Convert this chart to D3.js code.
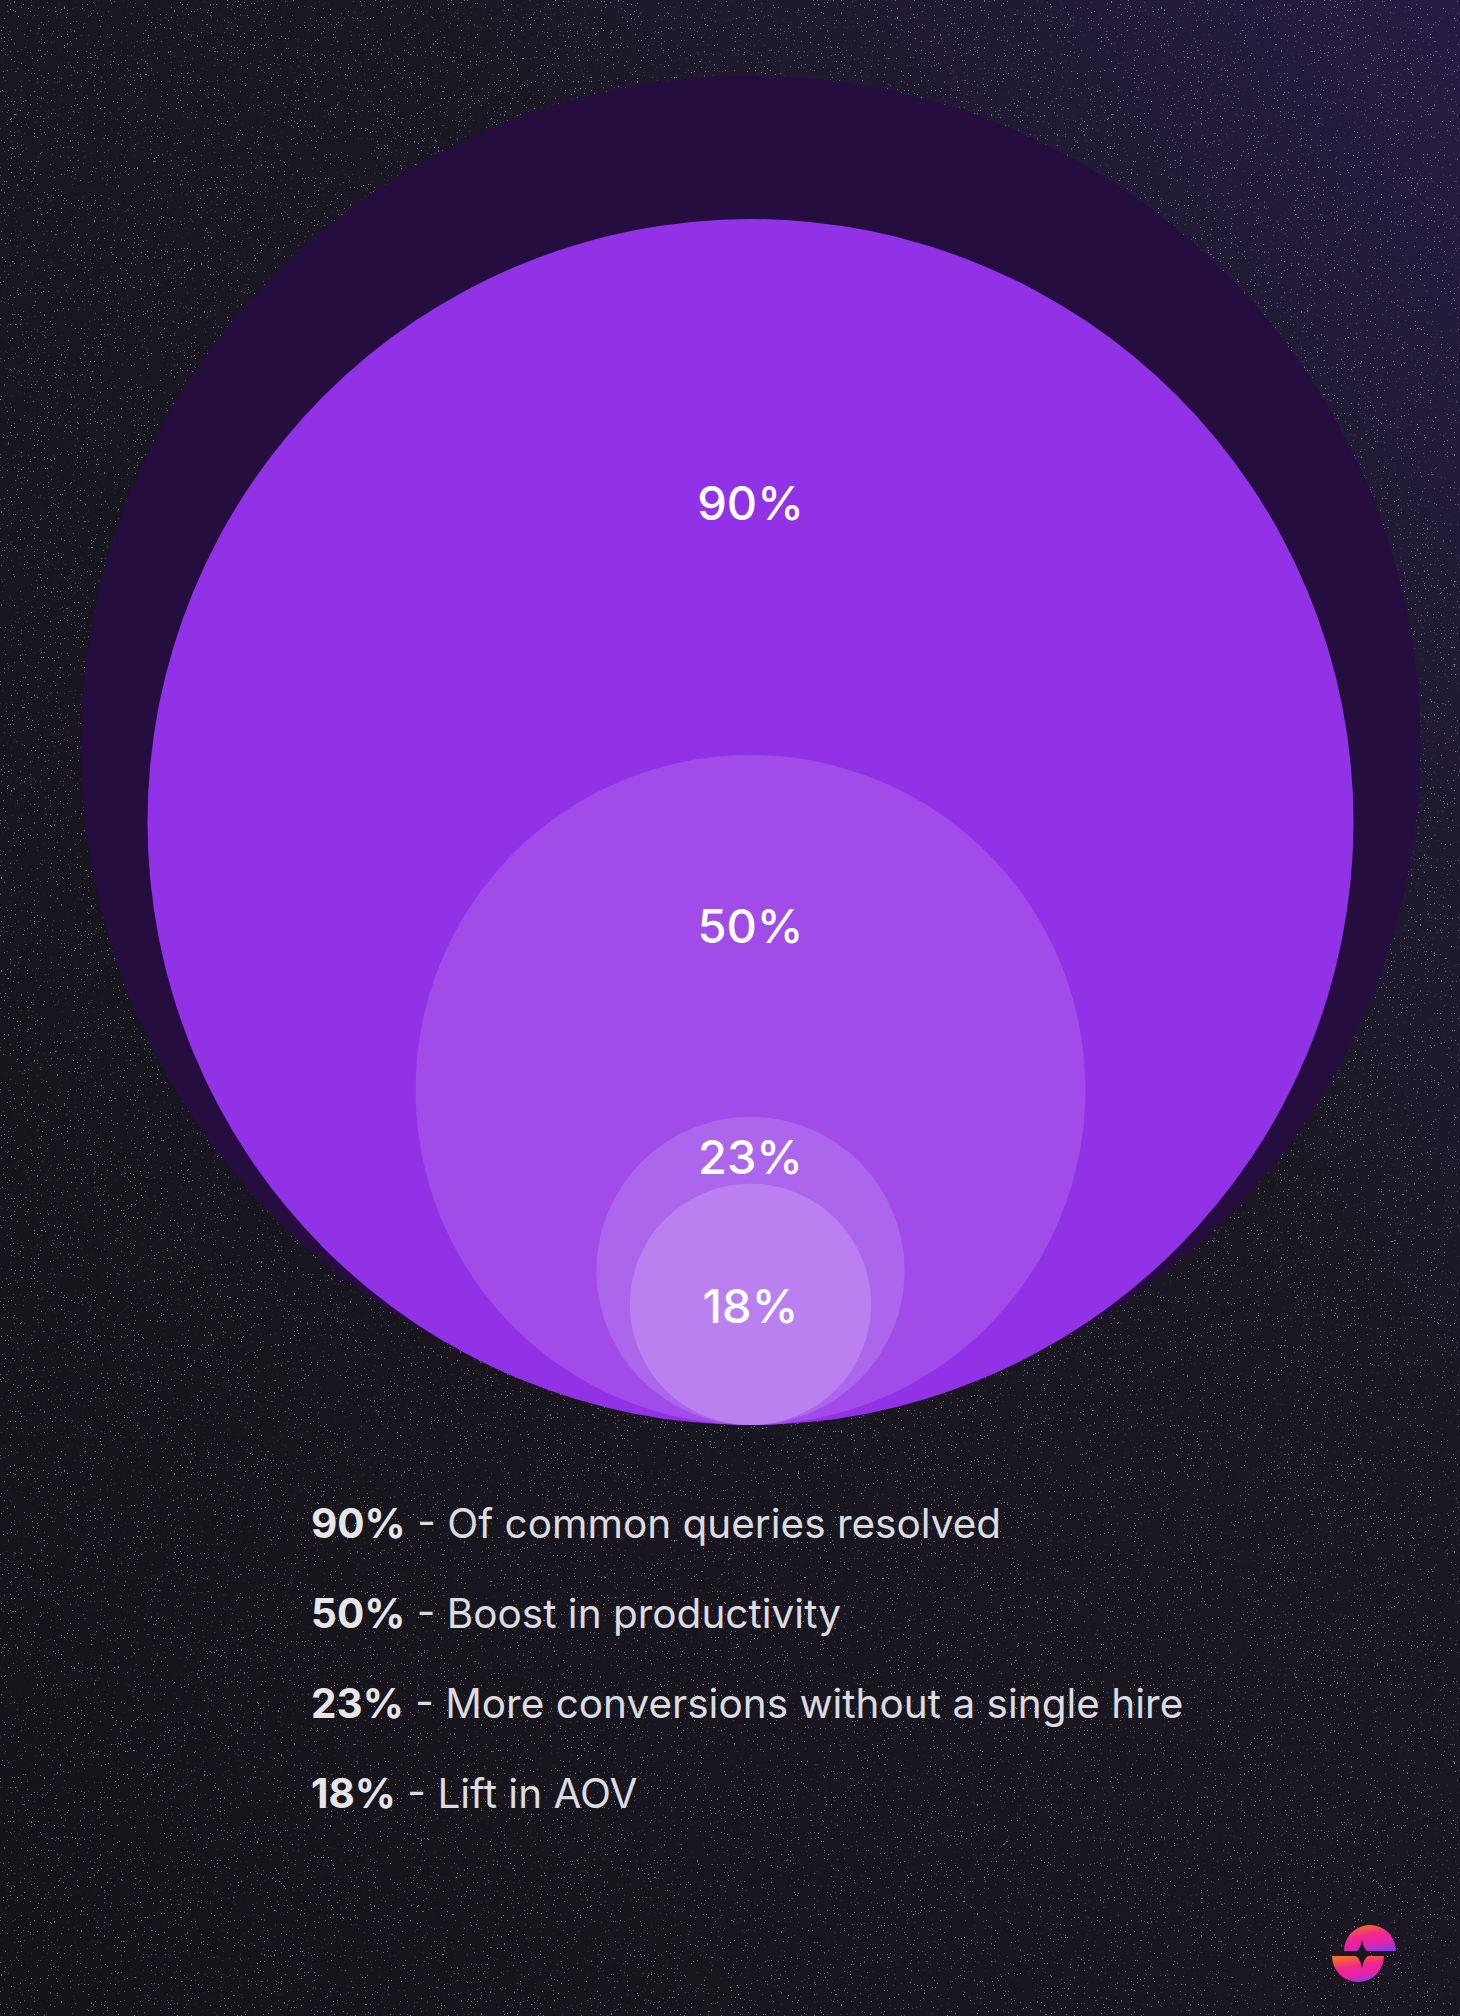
<!DOCTYPE html>
<html>
<head>
<meta charset="utf-8">
<script src="https://cdn.jsdelivr.net/npm/d3@7"></script>
<style>
  html, body { margin: 0; padding: 0; background: #17151b; }
  svg { display: block; }
</style>
</head>
<body>
<svg id="chart" width="1460" height="2016"></svg>
<script>
// data
const values = [90, 50, 23, 18];
const labels = ["90%", "50%", "23%", "18%"];
const descriptions = [
  "Of common queries resolved",
  "Boost in productivity",
  "More conversions without a single hire",
  "Lift in AOV"
];
const totalValue = 100;

// layout / style
const colors = ["#9232e7", "#a14ce9", "#ac66ec", "#ba80f0"];
const outerColor = "#260d40";
const labelShift = [-0.53, -0.49, -0.745, 0.01]; // label offset from circle centre, in radii

const svg = d3.select("#chart");
const width = +svg.attr("width");
const height = +svg.attr("height");
const cx = 750.5;
const baseY = 1425;

const defs = svg.append("defs");

const bg = defs.append("linearGradient").attr("id", "bg")
  .attr("x1", "100%").attr("y1", "0%").attr("x2", "0%").attr("y2", "100%");
bg.append("stop").attr("offset", "0%").attr("stop-color", "#261c42");
bg.append("stop").attr("offset", "35%").attr("stop-color", "#1b1824");
bg.append("stop").attr("offset", "100%").attr("stop-color", "#151318");

const noise = defs.append("filter").attr("id", "noise")
  .attr("x", 0).attr("y", 0).attr("width", "100%").attr("height", "100%");
noise.append("feTurbulence").attr("type", "fractalNoise")
  .attr("baseFrequency", 0.7).attr("numOctaves", 2).attr("seed", 7).attr("result", "t");
noise.append("feColorMatrix").attr("type", "matrix")
  .attr("values", "0 0 0 0 0.62  0 0 0 0 0.6  0 0 0 0 0.72  16 0 0 0 -11.2");

const logoGrad = defs.append("linearGradient").attr("id", "logo")
  .attr("x1", "30%").attr("y1", "0%").attr("x2", "65%").attr("y2", "100%");
logoGrad.append("stop").attr("offset", "0%").attr("stop-color", "#f5701f");
logoGrad.append("stop").attr("offset", "40%").attr("stop-color", "#f0288e");
logoGrad.append("stop").attr("offset", "70%").attr("stop-color", "#e523a8");
logoGrad.append("stop").attr("offset", "100%").attr("stop-color", "#8f3ae6");

svg.append("rect").attr("width", width).attr("height", height).attr("fill", "url(#bg)");
svg.append("rect").attr("width", width).attr("height", height)
  .attr("filter", "url(#noise)").attr("opacity", 0.5);

const r = d3.scaleLinear().domain([0, totalValue]).range([0, 670]);

// outer (100%) circle, sits a little higher than the tangent point
svg.append("circle")
  .attr("cx", cx)
  .attr("cy", baseY - r(totalValue) - 9)
  .attr("r", r(totalValue))
  .attr("fill", outerColor);

svg.append("g")
  .selectAll("circle")
  .data(values)
  .join("circle")
  .attr("cx", cx)
  .attr("cy", (d) => baseY - r(d))
  .attr("r", (d) => r(d))
  .attr("fill", (d, i) => colors[i]);

svg.append("g")
  .selectAll("text")
  .data(values)
  .join("text")
  .attr("x", cx)
  .attr("y", (d, i) => baseY - r(d) + labelShift[i] * r(d))
  .attr("text-anchor", "middle")
  .attr("dominant-baseline", "central")
  .attr("font-family", "Inter, 'Noto Sans', sans-serif")
  .attr("font-size", 47)
  .attr("font-weight", 500)
  .attr("fill", "#ffffff")
  .text((d, i) => labels[i]);

// legend
const legend = svg.append("g")
  .attr("font-family", "Inter, 'Noto Sans', sans-serif")
  .attr("font-size", 40.5)
  .attr("fill", "#dcdbe0");

const rows = legend.selectAll("text")
  .data(values)
  .join("text")
  .attr("x", 311)
  .attr("y", (d, i) => 1538 + i * 90);
rows.append("tspan").attr("font-weight", 700).attr("fill", "#e6e5ea").text((d, i) => labels[i]);
rows.append("tspan").attr("font-weight", 400).text((d, i) => " - " + descriptions[i]);

// logo
const logo = svg.append("g").attr("transform", "translate(1364,1954)");
logo.append("path").attr("d", "M-20,-3 A26,26 0 0 1 32,-3 Z").attr("fill", "url(#logo)");
logo.append("path").attr("d", "M-32,2 A26,26 0 0 0 20,2 Z").attr("fill", "url(#logo)");
logo.append("path")
  .attr("d", "M-2,-14 Q0,-1 9,0 Q0,1 -2,14 Q-4,1 -13,0 Q-4,-1 -2,-14 Z")
  .attr("fill", "#19161d");
</script>
</body>
</html>
